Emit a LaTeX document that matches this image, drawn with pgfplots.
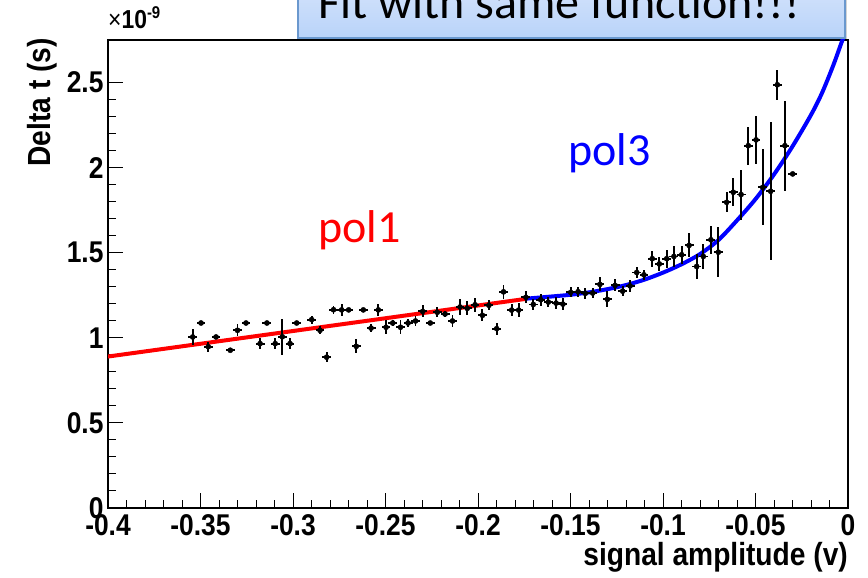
\documentclass[border=0pt]{standalone}
\usepackage{pgfplots}
\pgfplotsset{compat=1.18}
\usepackage{pgfplotstable}
\usepackage{fontspec}
\setmainfont{Liberation Sans}
\newfontfamily\rootfont{Liberation Sans}[FakeStretch=0.88]
\newfontfamily\calibri{Carlito}
\usetikzlibrary{shadows}
\definecolor{boxborder}{HTML}{6A98CE}
\definecolor{boxtop}{HTML}{DCE8FC}
\definecolor{boxbot}{HTML}{B9D3F9}

\pgfplotstableread{
x y ey
-0.3542 1.005 0.047
-0.3497 1.087 0.012
-0.3458 0.948 0.030
-0.3416 1.005 0.012
-0.3339 0.927 0.012
-0.3300 1.044 0.035
-0.3254 1.087 0.012
-0.3178 0.966 0.030
-0.3141 1.087 0.012
-0.3096 0.966 0.030
-0.3058 1.006 0.106
-0.3016 0.966 0.030
-0.2980 1.087 0.012
-0.2899 1.107 0.023
-0.2854 1.044 0.023
-0.2818 0.886 0.030
-0.2781 1.165 0.023
-0.2737 1.164 0.035
-0.2699 1.164 0.012
-0.2658 0.950 0.041
-0.2620 1.164 0.012
-0.2578 1.057 0.023
-0.2539 1.164 0.035
-0.2497 1.062 0.041
-0.2461 1.087 0.018
-0.2419 1.062 0.041
-0.2378 1.087 0.023
-0.2338 1.099 0.030
-0.2299 1.155 0.035
-0.2258 1.087 0.012
-0.2220 1.150 0.030
-0.2178 1.140 0.018
-0.2138 1.099 0.035
-0.2097 1.181 0.047
-0.2058 1.173 0.041
-0.2016 1.194 0.041
-0.1976 1.132 0.035
-0.1941 1.191 0.030
-0.1899 1.054 0.035
-0.1862 1.270 0.041
-0.1818 1.163 0.035
-0.1780 1.163 0.041
-0.1741 1.238 0.035
-0.1701 1.196 0.035
-0.1661 1.224 0.035
-0.1620 1.210 0.030
-0.1578 1.204 0.035
-0.1541 1.198 0.035
-0.1499 1.267 0.030
-0.1459 1.271 0.030
-0.1420 1.261 0.030
-0.1380 1.263 0.030
-0.1341 1.314 0.041
-0.1301 1.226 0.047
-0.1259 1.308 0.035
-0.1218 1.274 0.030
-0.1178 1.305 0.035
-0.1142 1.384 0.035
-0.1103 1.370 0.030
-0.1058 1.465 0.047
-0.1020 1.434 0.041
-0.0980 1.465 0.053
-0.0941 1.478 0.059
-0.0899 1.488 0.053
-0.0859 1.543 0.070
-0.0818 1.419 0.076
-0.0782 1.478 0.076
-0.0741 1.576 0.082
-0.0701 1.503 0.147
-0.0656 1.796 0.059
-0.0620 1.855 0.082
-0.0578 1.842 0.147
-0.0539 2.129 0.111
-0.0497 2.163 0.141
-0.0461 1.884 0.223
-0.0418 1.861 0.405
-0.0382 2.487 0.088
-0.0341 2.129 0.264
-0.0299 1.963 0.012
}\datatable

\begin{document}
\begin{tikzpicture}[x=1pt,y=1pt]
\path[use as bounding box] (0,0) rectangle (868,578);
% title box (cut at the top)
\draw[boxborder, line width=2.2pt, top color=boxtop, bottom color=boxbot,
      drop shadow={shadow xshift=2pt, shadow yshift=-3pt, opacity=0.35}]
      (298,540) rectangle (845,610);
\node[anchor=base, inner sep=0pt] at (559,559) {\calibri\fontsize{48}{48}\selectfont Fit with same function!!!};

\begin{axis}[
  at={(108pt,70pt)}, anchor=south west,
  scale only axis, width=740pt, height=468pt,
  xmin=-0.4, xmax=0, ymin=0, ymax=2.75,
  xtick={-0.4,-0.35,-0.3,-0.25,-0.2,-0.15,-0.1,-0.05,0},
  xticklabels={-0.4,-0.35,-0.3,-0.25,-0.2,-0.15,-0.1,-0.05,0},
  ytick={0,0.5,1,1.5,2,2.5},
  yticklabels={0,0.5,1,1.5,2,2.5},
  minor x tick num=4, minor y tick num=4,
  tick align=inside, tick pos=left,
  major tick length=15pt, minor tick length=8pt,
  tick style={black, line width=1pt},
  axis line style={line width=1.3pt},
  ticklabel style={font=\rootfont\fontsize{30}{30}\selectfont\bfseries},
  xticklabel style={yshift=-3pt},
  yticklabel style={xshift=-1pt},
]
\addplot[red, line width=4pt] coordinates {(-0.4,0.89) (-0.174,1.229)};
\addplot[blue, line width=4pt, smooth] coordinates {
(-0.174,1.230) (-0.16,1.243) (-0.15,1.253) (-0.14,1.267) (-0.13,1.286)
(-0.12,1.310) (-0.11,1.342) (-0.10,1.383) (-0.09,1.432) (-0.08,1.492)
(-0.07,1.575) (-0.06,1.690) (-0.05,1.815) (-0.04,1.960) (-0.03,2.125)
(-0.02,2.310) (-0.014,2.44) (-0.008,2.60) (-0.004,2.72) (0,2.84)};
\addplot[black, only marks, mark=*, mark size=2.6pt,
  error bars/.cd, x dir=both, x fixed=0.0024, y dir=both, y explicit,
  error bar style={line width=1.9pt, black}, error mark=none]
  table[x=x, y=y, y error=ey] {\datatable};
\end{axis}

\node[anchor=base east, inner sep=0pt] at (848,12) {\rootfont\fontsize{32}{32}\selectfont\bfseries signal amplitude (v)};
\node[rotate=90, anchor=base east, inner sep=0pt] at (50,540) {\rootfont\fontsize{32}{32}\selectfont\bfseries Delta t (s)};
\node[anchor=base west, inner sep=0pt] at (108,549) {\rootfont\fontsize{26}{26}\selectfont ×\textbf{10}\raisebox{10pt}{\fontsize{17}{17}\selectfont\textbf{-9}}};
\node[red, anchor=base west, inner sep=0pt] at (318,335) {\calibri\fontsize{46}{46}\selectfont pol1};
\node[blue, anchor=base west, inner sep=0pt] at (568,412) {\calibri\fontsize{46}{46}\selectfont pol3};
\end{tikzpicture}
\end{document}
